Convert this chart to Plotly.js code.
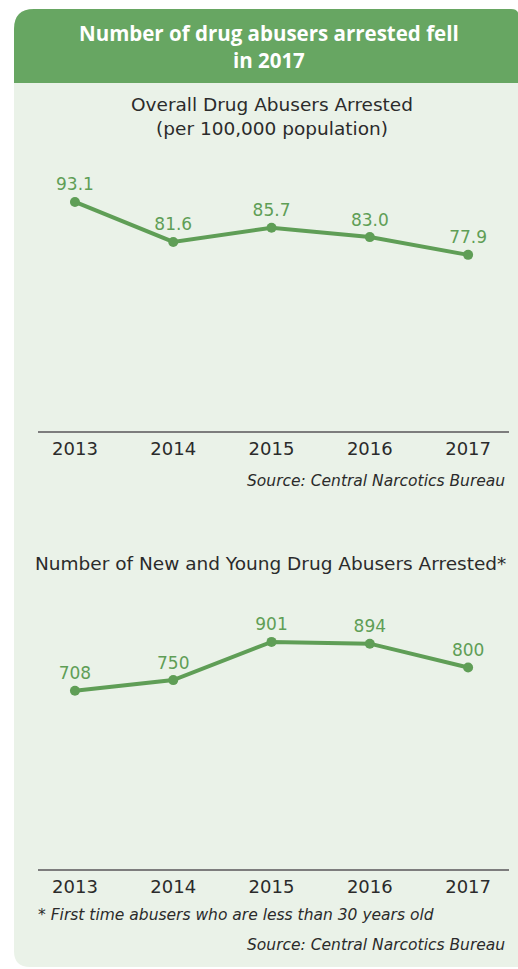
<!DOCTYPE html>
<html>
<head>
<meta charset="utf-8">
<script src="https://cdn.plot.ly/plotly-3.0.1.min.js"></script>
<style>
html,body{margin:0;padding:0;background:#fff;}
#chart{width:518px;height:969px;}
</style>
</head>
<body>
<div id="chart"></div>
<script>
// ---- data ----
const years = ["2013", "2014", "2015", "2016", "2017"];
const overallRate = [93.1, 81.6, 85.7, 83.0, 77.9];
const overallLabels = ["93.1", "81.6", "85.7", "83.0", "77.9"];
const newYoung = [708, 750, 901, 894, 800];
const newYoungLabels = ["708", "750", "901", "894", "800"];

const headerTitle = "Number of drug abusers arrested fell<br>in 2017";
const sub1 = "Overall Drug Abusers Arrested<br>(per 100,000 population)";
const sub2 = "Number of New and Young Drug Abusers Arrested*";
const sourceText = "Source: Central Narcotics Bureau";
const footnote = "* First time abusers who are less than 30 years old";

// ---- layout helpers (pixel -> paper) ----
const W = 518, H = 969;
const px = x => x / W;
const py = y => 1 - y / H;

const green = "#5f9e56";
const headerGreen = "#67a662";
const bodyGreen = "#eaf2e8";
const textDark = "#2b2b2b";
const FONT = "DejaVu Sans, sans-serif";
const HFONT = "Open Sans, sans-serif";

function roundedPath(x0, y0, x1, y1, rtl, rtr, rbr, rbl) {
  const P = (x, y) => px(x).toFixed(5) + "," + py(y).toFixed(5);
  return "M" + P(x0 + rtl, y0) +
    " L" + P(x1 - rtr, y0) + " Q" + P(x1, y0) + " " + P(x1, y0 + rtr) +
    " L" + P(x1, y1 - rbr) + " Q" + P(x1, y1) + " " + P(x1 - rbr, y1) +
    " L" + P(x0 + rbl, y1) + " Q" + P(x0, y1) + " " + P(x0, y1 - rbl) +
    " L" + P(x0, y0 + rtl) + " Q" + P(x0, y0) + " " + P(x0 + rtl, y0) + " Z";
}

const traces = [
  {
    x: years, y: overallRate, xaxis: "x", yaxis: "y",
    type: "scatter", mode: "lines+markers+text",
    text: overallLabels, textposition: "top center",
    textfont: {family: FONT, size: 17, color: green},
    line: {color: green, width: 4},
    marker: {color: green, size: 10},
    cliponaxis: false,
    hoverinfo: "skip"
  },
  {
    x: years, y: newYoung, xaxis: "x2", yaxis: "y2",
    type: "scatter", mode: "lines+markers+text",
    text: newYoungLabels, textposition: "top center",
    textfont: {family: FONT, size: 17, color: green},
    line: {color: green, width: 4},
    marker: {color: green, size: 10},
    cliponaxis: false,
    hoverinfo: "skip"
  }
];

const annotations = [
  {xref: "paper", yref: "paper", x: px(269), y: py(47), text: headerTitle, showarrow: false,
   xanchor: "center", yanchor: "middle", align: "center",
   font: {family: HFONT, size: 20.5, color: "#ffffff", weight: "bold"}},
  {xref: "paper", yref: "paper", x: px(272), y: py(116), text: sub1, showarrow: false,
   xanchor: "center", yanchor: "middle", align: "center",
   font: {family: FONT, size: 18.5, color: textDark}},
  {xref: "paper", yref: "paper", x: px(507), y: py(481), text: sourceText, showarrow: false,
   xanchor: "right", yanchor: "middle",
   font: {family: FONT, size: 15.5, color: textDark, style: "italic"}},
  {xref: "paper", yref: "paper", x: px(270), y: py(563), text: sub2, showarrow: false,
   xanchor: "center", yanchor: "middle",
   font: {family: FONT, size: 18.5, color: textDark}},
  {xref: "paper", yref: "paper", x: px(36), y: py(915), text: footnote, showarrow: false,
   xanchor: "left", yanchor: "middle",
   font: {family: FONT, size: 15.5, color: textDark, style: "italic"}},
  {xref: "paper", yref: "paper", x: px(507), y: py(945), text: sourceText, showarrow: false,
   xanchor: "right", yanchor: "middle",
   font: {family: FONT, size: 15.5, color: textDark, style: "italic"}}
];

const shapes = [
  {type: "path", xref: "paper", yref: "paper", layer: "below",
   path: roundedPath(14, 9, 519, 967, 20, 8, 0, 16),
   fillcolor: bodyGreen, line: {width: 0}},
  {type: "path", xref: "paper", yref: "paper", layer: "below",
   path: roundedPath(14, 9, 519, 83, 20, 8, 0, 0),
   fillcolor: headerGreen, line: {width: 0}}
];

const xCommon = {
  type: "category", range: [-0.376, 4.416],
  showgrid: false, zeroline: false, showline: true,
  linecolor: "#7d7d7d", linewidth: 2, ticks: "",
  tickfont: {family: FONT, size: 18, color: textDark},
  fixedrange: true
};
const yCommon = {showgrid: false, zeroline: false, showline: false, showticklabels: false, fixedrange: true};

const layout = {
  width: W, height: H,
  margin: {l: 0, r: 0, t: 0, b: 0},
  paper_bgcolor: "rgba(0,0,0,0)",
  plot_bgcolor: "rgba(0,0,0,0)",
  showlegend: false,
  xaxis: Object.assign({}, xCommon, {domain: [px(38), px(509)], anchor: "y"}),
  yaxis: Object.assign({}, yCommon, {domain: [py(431), py(180)], range: [27.3, 99.4], anchor: "x"}),
  xaxis2: Object.assign({}, xCommon, {domain: [px(38), px(509)], anchor: "y2"}),
  yaxis2: Object.assign({}, yCommon, {domain: [py(869), py(620)], range: [3.3, 987.6], anchor: "x2"}),
  annotations: annotations,
  shapes: shapes
};

Plotly.newPlot("chart", traces, layout, {displayModeBar: false, staticPlot: true});
</script>
</body>
</html>
